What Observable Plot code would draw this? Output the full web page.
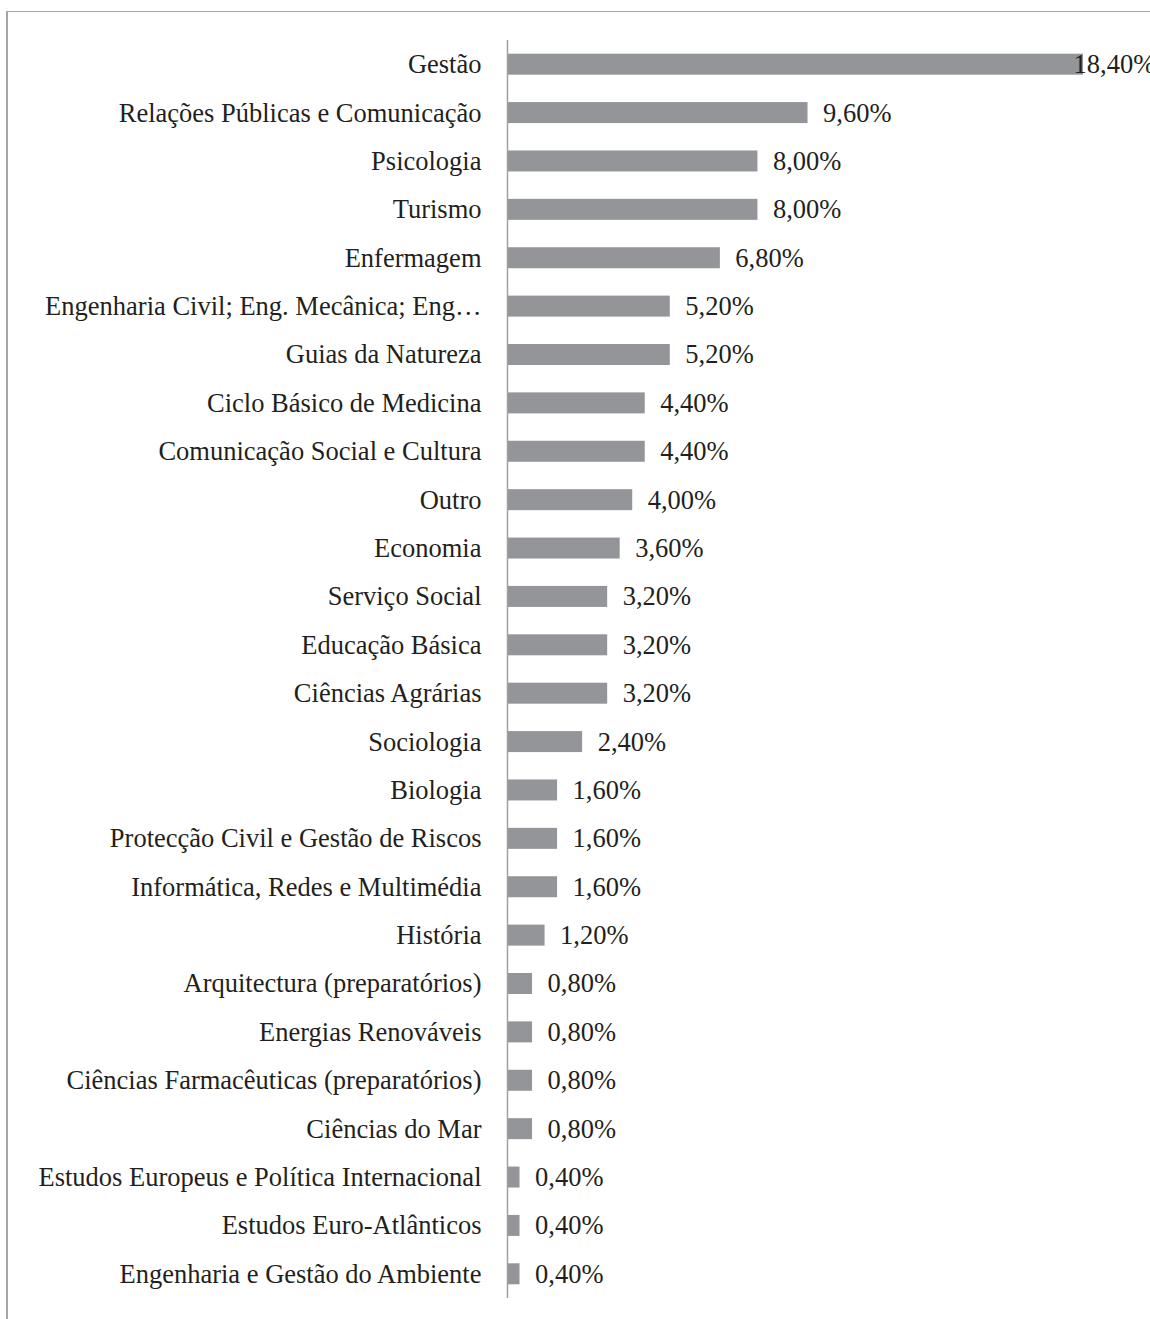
<!DOCTYPE html>
<html>
<head>
<meta charset="utf-8">
<script src="https://cdn.jsdelivr.net/npm/d3@7"></script>
<script src="https://cdn.jsdelivr.net/npm/@observablehq/plot@0.6"></script>
<style>
  html, body { margin: 0; padding: 0; background: #fff; }
  body { width: 1150px; height: 1319px; position: relative; overflow: hidden; }
  #frame { position: absolute; left: 6px; top: 11px; width: 1150px; height: 1320px;
           border-top: 1px solid #a6a6a6; border-left: 2px solid #a6a6a6; box-sizing: border-box; }
  #chart { position: absolute; left: 0; top: 0; }
  #chart svg, #chart svg text { font-family: "Liberation Serif", "Times New Roman", Times, serif !important; }
</style>
</head>
<body>
<div id="frame"></div>
<div id="chart"></div>
<script>
const categories = [
  "Gestão",
  "Relações Públicas e Comunicação",
  "Psicologia",
  "Turismo",
  "Enfermagem",
  "Engenharia Civil; Eng. Mecânica; Eng…",
  "Guias da Natureza",
  "Ciclo Básico de Medicina",
  "Comunicação Social e Cultura",
  "Outro",
  "Economia",
  "Serviço Social",
  "Educação Básica",
  "Ciências Agrárias",
  "Sociologia",
  "Biologia",
  "Protecção Civil e Gestão de Riscos",
  "Informática, Redes e Multimédia",
  "História",
  "Arquitectura (preparatórios)",
  "Energias Renováveis",
  "Ciências Farmacêuticas (preparatórios)",
  "Ciências do Mar",
  "Estudos Europeus e Política Internacional",
  "Estudos Euro-Atlânticos",
  "Engenharia e Gestão do Ambiente"
];
const values = [18.4, 9.6, 8.0, 8.0, 6.8, 5.2, 5.2, 4.4, 4.4, 4.0, 3.6, 3.2, 3.2, 3.2, 2.4, 1.6, 1.6, 1.6, 1.2, 0.8, 0.8, 0.8, 0.8, 0.4, 0.4, 0.4];

const data = categories.map((c, i) => ({category: c, value: values[i]}));
const maxVal = d3.max(values);
const fmt = v => v.toFixed(2).replace(".", ",") + "%";

const chart = Plot.plot({
  width: 1150,
  height: 1319,
  marginLeft: 507,
  marginRight: 67,
  marginTop: 40,
  marginBottom: 21,
  style: {background: "transparent", overflow: "visible"},
  x: {domain: [0, maxVal], axis: null},
  y: {domain: categories, paddingInner: 0.566, paddingOuter: 0.283, round: false, label: null},
  marks: [
    Plot.barX(data, {x: "value", y: "category", fill: "#939598"}),
    Plot.ruleX([0], {stroke: "#a0a0a0", strokeWidth: 1.5}),
    Plot.axisY({tickSize: 0, tickPadding: 26, fontSize: 26.5, fill: "#231f20", label: null}),
    Plot.text(data.filter(d => d.value !== maxVal), {
      x: "value", y: "category", text: d => fmt(d.value),
      textAnchor: "start", dx: 15, fontSize: 26.5, fill: "#231f20"
    }),
    Plot.text(data.filter(d => d.value === maxVal), {
      x: "value", y: "category", text: d => fmt(d.value),
      textAnchor: "start", dx: -10, fontSize: 26.5, fill: "#231f20"
    })
  ]
});
document.getElementById("chart").appendChild(chart);
</script>
</body>
</html>
